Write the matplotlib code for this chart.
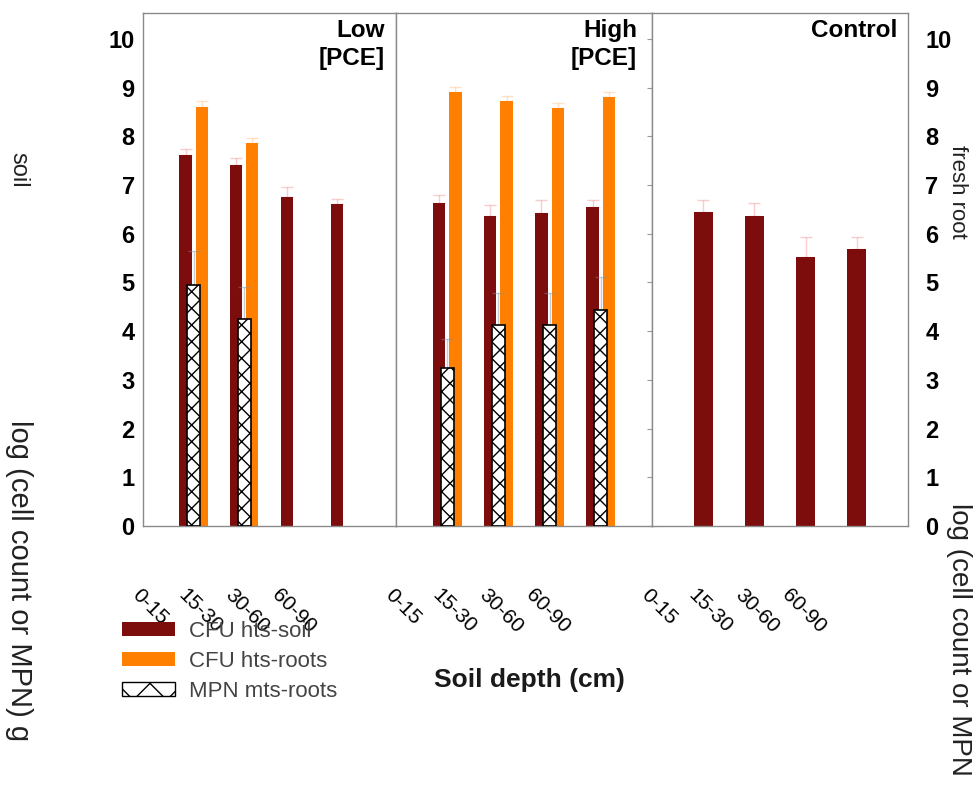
import numpy as np
import matplotlib
matplotlib.use("Agg")
import matplotlib.pyplot as plt
from matplotlib.patches import Patch
from matplotlib.transforms import blended_transform_factory

plt.rcParams['font.family'] = ['Liberation Sans', 'DejaVu Sans']
plt.rcParams['hatch.linewidth'] = 1.0

# data
panels = ["Low\n[PCE]", "High\n[PCE]", "Control"]
depths = ["0-15", "15-30", "30-60", "60-90"]

cfu_soil = [[7.62, 7.41, 6.75, 6.61],
            [6.63, 6.37, 6.42, 6.55],
            [6.45, 6.37, 5.53, 5.68]]
cfu_soil_err = [[0.12, 0.15, 0.2, 0.1],
                [0.17, 0.22, 0.27, 0.15],
                [0.25, 0.25, 0.4, 0.25]]
cfu_roots = [[8.6, 7.86, np.nan, np.nan],
             [8.91, 8.73, 8.58, 8.81],
             [np.nan, np.nan, np.nan, np.nan]]
cfu_roots_err = [[0.12, 0.1, 0, 0],
                 [0.1, 0.1, 0.1, 0.1],
                 [0, 0, 0, 0]]
mpn_roots = [[4.95, 4.25, np.nan, np.nan],
             [3.24, 4.13, 4.13, 4.44],
             [np.nan, np.nan, np.nan, np.nan]]
mpn_roots_err = [[0.7, 0.65, 0, 0],
                 [0.6, 0.65, 0.65, 0.67],
                 [0, 0, 0, 0]]

c_soil = "#7d0d0d"
c_roots = "#ff8000"

fig = plt.figure(figsize=(9.75, 7.85), dpi=100)
W, H = 975.0, 785.0
edges = [143, 396, 652, 908]
y_bot, y_top = 526, 13

axes = []
for k in range(3):
    ax = fig.add_axes([edges[k] / W, 1 - y_bot / H,
                       (edges[k + 1] - edges[k]) / W, (y_bot - y_top) / H])
    axes.append(ax)

x = np.arange(1, 5)
ekw = dict(fmt='none', elinewidth=1, capsize=4, alpha=0.45)
for k, ax in enumerate(axes):
    soil = np.array(cfu_soil[k])
    roots = np.array(cfu_roots[k])
    mpn = np.array(mpn_roots[k])
    only_soil = np.all(np.isnan(roots))
    if only_soil:
        ax.bar(x, soil, width=0.37, color=c_soil, zorder=2)
        ax.errorbar(x, soil, yerr=[np.zeros(4), cfu_soil_err[k]],
                    ecolor="#f09090", zorder=1, **ekw)
    else:
        ax.bar(x - 0.16, soil, width=0.24, color=c_soil, zorder=2)
        ax.errorbar(x - 0.16, soil, yerr=[np.zeros(4), cfu_soil_err[k]],
                    ecolor="#f09090", zorder=1, **ekw)
        ok = ~np.isnan(roots)
        ax.bar(x[ok] + 0.16, roots[ok], width=0.24, color=c_roots, zorder=2)
        ax.errorbar(x[ok] + 0.16, roots[ok],
                    yerr=[np.zeros(ok.sum()), np.array(cfu_roots_err[k])[ok]],
                    ecolor="#ffc080", zorder=1, **ekw)
        ok = ~np.isnan(mpn)
        ax.errorbar(x[ok], mpn[ok],
                    yerr=[np.zeros(ok.sum()), np.array(mpn_roots_err[k])[ok]],
                    ecolor="#7890a8", zorder=3, **ekw)
        ax.bar(x[ok], mpn[ok], width=0.25, color="white", edgecolor="black",
               hatch="xx", linewidth=1.2, zorder=4)

    ax.set_xlim(0, 5)
    ax.set_ylim(0, 10.53)
    ax.set_xticks([])
    for s in ax.spines.values():
        s.set_color("#8a8a8a")
        s.set_linewidth(1)
    ax.text(0.957 if k != 1 else 0.941, 0.988, panels[k], transform=ax.transAxes,
            ha="right", va="top", fontsize=17.5, fontweight="bold", linespacing=1.25)

    # rotated depth labels, shifted left like in the original
    tr = blended_transform_factory(ax.transData, ax.transAxes)
    for i, lab in enumerate(depths):
        ax.text(i * 0.92 - 0.03, -0.115, lab, transform=tr, rotation=-45,
                rotation_mode="anchor", ha="left", va="top", fontsize=15)

ax0, ax1, ax2 = axes
ax0.set_yticks(range(11))
ax0.tick_params(axis="y", which="major", length=0, pad=6, labelsize=17)
for t in ax0.get_yticklabels():
    t.set_fontweight("bold")
ax0.set_yticks([2, 7, 10], minor=True)
ax0.tick_params(axis="y", which="minor", left=True, right=True, direction="inout",
                length=6, color="#999999")

ax1.set_yticks(range(11))
ax1.tick_params(axis="y", which="major", left=False, right=True, labelleft=False,
                direction="inout", length=7, color="#999999")
ax1.set_yticks([2, 7, 10], minor=True)
ax1.tick_params(axis="y", which="minor", left=True, direction="inout",
                length=6, color="#999999")

ax2.set_yticks(range(11))
ax2.tick_params(axis="y", which="major", left=False, right=False, labelleft=False,
                labelright=True, pad=9, labelsize=17)
for t in ax2.get_yticklabels():
    t.set_fontweight("bold")

# axis titles (broken across the margins as in the scan)
fig.text(18 / W, 1 - 170 / H, "soil", rotation=270, ha="center", va="center",
         fontsize=17, color="#222222")
fig.text(19 / W, 1 - 420 / H, "log (cell count or MPN) g", rotation=270,
         ha="center", va="top", fontsize=21, color="#222222")
fig.text(957 / W, 1 - 145 / H, "fresh root", rotation=270, ha="center", va="top",
         fontsize=16, color="#222222")
fig.text(959 / W, 1 - 503 / H, "log (cell count or MPN", rotation=270,
         ha="center", va="top", fontsize=20, color="#222222")

fig.text(529 / W, 1 - 680 / H, "Soil depth (cm)", ha="center", va="center",
         fontsize=19, fontweight="bold", color="#1a1a1a")

handles = [Patch(facecolor=c_soil, edgecolor="none"),
           Patch(facecolor=c_roots, edgecolor="none"),
           Patch(facecolor="white", edgecolor="black", hatch="x")]
labels = ["CFU hts-soil", "CFU hts-roots", "MPN mts-roots"]
leg = fig.legend(handles, labels, loc="upper left",
                 bbox_to_anchor=(122 / W, 1 - 621 / H), frameon=False,
                 fontsize=16, handlelength=2.4, handleheight=0.6,
                 handletextpad=0.6, labelspacing=0.4, borderpad=0,
                 borderaxespad=0)
for t in leg.get_texts():
    t.set_color("#444444")

fig.savefig("out.png", dpi=100)
